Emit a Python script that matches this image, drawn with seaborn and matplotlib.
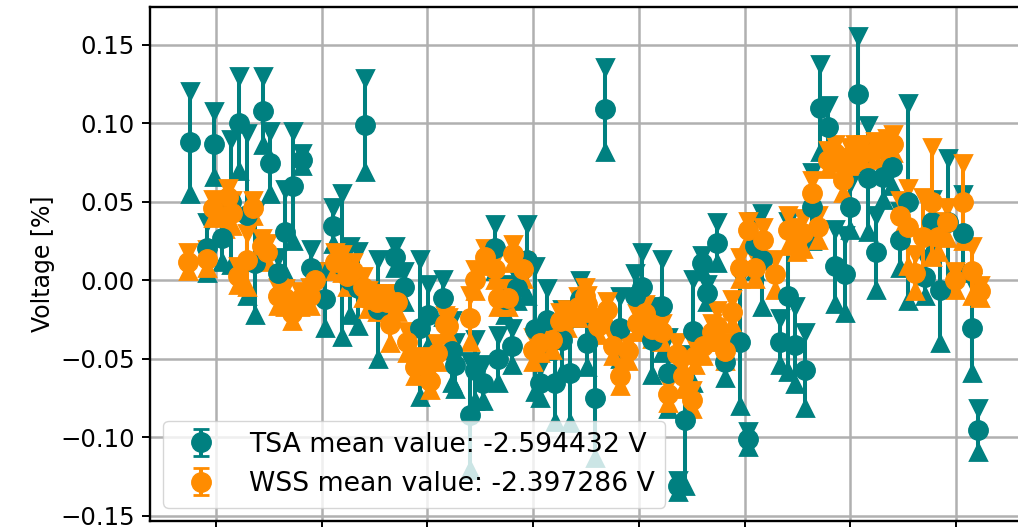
import matplotlib
matplotlib.use("Agg")
import matplotlib.pyplot as plt
import seaborn as sns

# ---------- DATA ----------
tsa_x = [15.1, 18.3, 19.6, 21.1, 22.8, 24.4, 25.9, 27.4, 28.9, 30.2,
         31.7, 33.1, 34.6, 36.3, 38.0, 40.6, 42.1, 43.8, 45.4, 46.9,
         48.2, 50.6, 53.9, 55.6, 58.6, 60.1, 62.9, 64.6, 65.2, 68.1,
         69.0, 70.5, 72.8, 73.4, 74.7, 76.0, 76.9, 78.8, 80.4, 81.3,
         82.6, 84.1, 85.5, 87.0, 88.9, 90.2, 91.7, 93.6, 96.4, 99.3,
         100.6, 102.5, 104.4, 105.5, 107.4, 108.7, 110.2, 111.9, 112.9, 114.8,
         116.3, 119.1, 120.6, 122.0, 123.3, 126.7, 128.2, 129.5, 131.4, 132.8,
         134.3, 135.8, 137.1, 139.0, 140.0, 141.5, 143.4, 144.9, 146.2, 147.9,
         149.4, 150.9, 154.1, 155.5, 157.0, 158.5, 161.3, 163.0, 164.2]
tsa_y = [0.088, 0.021, 0.087, 0.027, 0.050, 0.100, 0.042, 0.011, 0.108, 0.075,
         0.005, 0.031, 0.060, 0.077, 0.008, -0.012, 0.035, 0.010, 0.000, -0.005,
         0.099, -0.018, 0.015, -0.004, -0.030, -0.022, -0.011, -0.045, -0.054, -0.086,
         -0.057, -0.065, 0.021, -0.050, -0.012, -0.042, -0.005, 0.013, -0.031, -0.065,
         -0.025, -0.065, -0.038, -0.059, -0.012, -0.040, -0.075, 0.109, -0.030, -0.010,
         -0.004, -0.038, -0.016, -0.059, -0.131, -0.089, -0.032, 0.011, -0.008, 0.024,
         -0.052, -0.039, -0.101, 0.022, 0.013, -0.039, -0.010, -0.041, -0.057, 0.047,
         0.110, 0.098, 0.009, 0.004, 0.047, 0.119, 0.065, 0.018, 0.066, 0.072,
         0.026, 0.050, 0.002, 0.037, -0.006, 0.037, 0.030, -0.030, -0.095]
tsa_err = [0.033, 0.016, 0.021, 0.015, 0.040, 0.030, 0.052, 0.033, 0.022, 0.020,
           0.010, 0.027, 0.035, 0.004, 0.012, 0.018, 0.012, 0.046, 0.022, 0.024,
           0.030, 0.032, 0.007, 0.010, 0.044, 0.020, 0.012, 0.020, 0.015, 0.035,
           0.020, 0.012, 0.015, 0.015, 0.010, 0.012, 0.008, 0.023, 0.040, 0.010,
           0.020, 0.025, 0.020, 0.032, 0.012, 0.015, 0.038, 0.027, 0.020, 0.015,
           0.022, 0.022, 0.030, 0.023, 0.004, 0.042, 0.033, 0.005, 0.006, 0.013,
           0.010, 0.041, 0.005, 0.016, 0.030, 0.015, 0.048, 0.025, 0.024, 0.022,
           0.028, 0.014, 0.024, 0.025, 0.015, 0.037, 0.034, 0.024, 0.015, 0.012,
           0.018, 0.063, 0.012, 0.015, 0.034, 0.041, 0.025, 0.029, 0.014]

wss_x = [14.7, 18.3, 19.4, 21.7, 22.3, 23.0, 24.2, 25.9, 27.0, 28.7,
         29.6, 31.7, 33.1, 34.4, 35.9, 37.8, 38.7, 42.5, 43.8, 44.8,
         45.9, 47.8, 48.8, 50.5, 52.4, 52.9, 54.2, 56.1, 57.6, 59.5,
         60.5, 61.8, 63.3, 63.9, 68.1, 69.0, 70.9, 72.8, 73.4, 75.2,
         76.2, 78.1, 80.0, 81.3, 83.6, 85.1, 86.4, 88.5, 89.8, 90.2,
         92.3, 94.0, 95.1, 96.4, 97.9, 99.6, 101.2, 102.5, 104.4, 105.5,
         107.2, 108.4, 110.1, 110.6, 112.1, 113.8, 114.8, 116.3, 117.6, 119.1,
         120.6, 122.0, 123.5, 125.8, 128.2, 129.9, 131.1, 132.8, 133.9, 135.8,
         137.1, 138.6, 140.0, 140.9, 142.4, 144.7, 147.0, 148.1, 149.4, 150.9,
         152.2, 153.8, 155.5, 156.6, 158.3, 159.8, 161.3, 163.0, 164.5]
wss_y = [0.012, 0.014, 0.046, 0.041, 0.053, 0.043, 0.003, 0.013, 0.046, 0.022,
         0.018, -0.010, -0.011, -0.021, -0.012, -0.010, 0.000, 0.012, 0.011, 0.003,
         0.006, -0.004, -0.012, -0.014, -0.014, -0.028, -0.014, -0.039, -0.055, -0.054,
         -0.064, -0.046, -0.028, -0.029, -0.024, 0.000, 0.015, 0.007, -0.011, -0.011,
         0.017, 0.007, -0.044, -0.040, -0.038, -0.026, -0.024, -0.017, -0.010, -0.015,
         -0.029, -0.019, -0.042, -0.061, -0.045, -0.027, -0.021, -0.031, -0.033, -0.072,
         -0.047, -0.061, -0.076, -0.048, -0.042, -0.033, -0.029, -0.045, -0.020, 0.008,
         0.032, 0.008, 0.026, 0.004, 0.032, 0.026, 0.030, 0.056, 0.034, 0.077,
         0.081, 0.064, 0.079, 0.081, 0.081, 0.083, 0.085, 0.087, 0.041, 0.034,
         0.005, 0.028, 0.050, 0.028, 0.037, 0.000, 0.050, 0.006, -0.007]
wss_err = [0.006, 0.006, 0.006, 0.008, 0.006, 0.008, 0.006, 0.017, 0.005, 0.005,
           0.006, 0.006, 0.006, 0.005, 0.005, 0.006, 0.006, 0.006, 0.006, 0.007,
           0.006, 0.007, 0.006, 0.006, 0.006, 0.012, 0.006, 0.007, 0.006, 0.006,
           0.006, 0.006, 0.006, 0.006, 0.015, 0.007, 0.006, 0.007, 0.006, 0.006,
           0.006, 0.006, 0.008, 0.006, 0.006, 0.006, 0.006, 0.007, 0.006, 0.006,
           0.006, 0.006, 0.006, 0.006, 0.006, 0.006, 0.006, 0.006, 0.006, 0.006,
           0.008, 0.008, 0.006, 0.006, 0.006, 0.006, 0.010, 0.006, 0.008, 0.007,
           0.006, 0.007, 0.008, 0.010, 0.010, 0.008, 0.010, 0.008, 0.008, 0.006,
           0.006, 0.008, 0.006, 0.006, 0.006, 0.006, 0.006, 0.006, 0.010, 0.025,
           0.012, 0.025, 0.035, 0.010, 0.010, 0.006, 0.025, 0.016, 0.004]

tsa_label = "TSA mean value: -2.594432 V"
wss_label = "WSS mean value: -2.397286 V"
x_ticks = [20, 40, 60, 80, 100, 120, 140, 160, 180]
y_ticks = [-0.15, -0.10, -0.05, 0.00, 0.05, 0.10, 0.15]

# ---------- STYLE ----------
sns.set_theme(style="ticks", rc={
    "axes.grid": True,
    "grid.color": "#b0b0b0",
    "grid.linewidth": 1.8,
    "axes.edgecolor": "black",
    "axes.linewidth": 1.7,
    "axes.labelcolor": "black",
    "text.color": "black",
    "xtick.color": "black",
    "ytick.color": "black",
    "xtick.major.size": 6,
    "ytick.major.size": 6,
    "xtick.major.width": 1.4,
    "ytick.major.width": 1.4,
    "ytick.major.pad": 5,
})
plt.rcParams["font.family"] = ["DejaVu Sans"]

DPI = 100
fig = plt.figure(figsize=(1018 / DPI, 527 / DPI), dpi=DPI)
# axes runs past the right edge of the canvas, like the cropped original
ax = fig.add_axes([150 / 1018, 6 / 527, 935 / 1018, 514 / 527])


def draw(x, y, err, color, label):
    line, caps, bars = ax.errorbar(x, y, yerr=err, fmt="o", color=color,
                                   ms=14, elinewidth=2.9, capsize=6,
                                   capthick=2, label=label)
    lo, hi = sorted(caps, key=lambda c: sum(c.get_ydata()))
    lo.set_marker("^")
    hi.set_marker("v")
    for c in caps:
        c.set_markersize(11.5)


draw(tsa_x, tsa_y, tsa_err, "teal", tsa_label)
draw(wss_x, wss_y, wss_err, "darkorange", wss_label)

ax.set_xlim(7.5, 184.4)
ax.set_ylim(-0.1532, 0.1742)
ax.set_xticks(x_ticks)
ax.set_yticks(y_ticks)
# x tick labels sit below the cropped canvas in the original
ax.tick_params(axis="x", labelbottom=False)
ax.tick_params(axis="y", labelsize=17.6)
ax.set_ylabel("Voltage [%]", fontsize=17)
ax.legend(loc="lower left", fontsize=19.2)

fig.savefig("out.png", dpi=DPI)
